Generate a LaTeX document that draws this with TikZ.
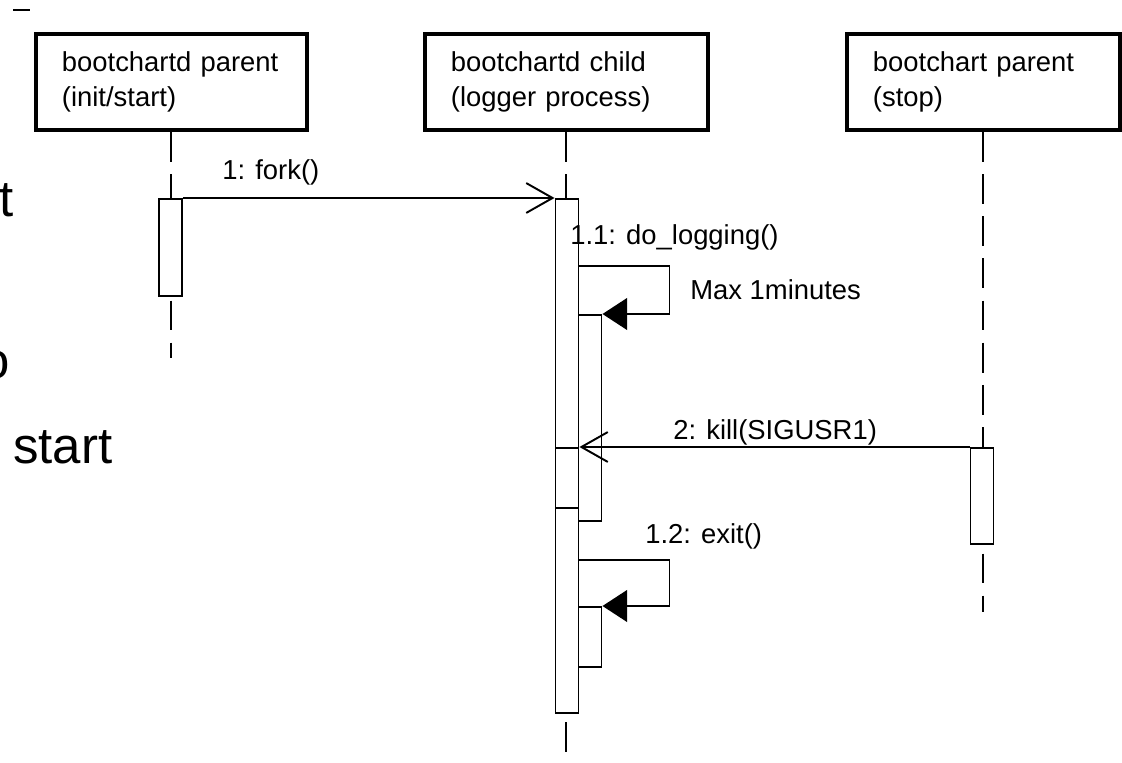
\documentclass[tikz,border=0pt]{standalone}
\usepackage{fontspec}
\setmainfont{Liberation Sans}
\usetikzlibrary{arrows.meta,positioning}

\begin{document}
\begin{tikzpicture}[>=Latex,x=0.02cm,y=-0.02cm,font=\fontsize{15.6}{20}\selectfont]
  \tikzstyle{objbox}=[draw,line width=2.2pt,inner xsep=0.52cm,minimum height=1.92cm,align=left,anchor=north west]
  \tikzstyle{actbar}=[draw,fill=white,line width=1.1pt,minimum width=0.46cm,inner sep=0pt,anchor=north]
  \tikzstyle{lifeline}=[line width=1.1pt,dash pattern=on 17pt off 7pt]
  \tikzstyle{callmsg}=[line width=1.1pt,-{Straight Barb[length=15pt,width=17pt]}]
  \tikzstyle{selfmsg}=[line width=1.1pt,-{Triangle[length=14pt,width=18pt]}]
  \tikzstyle{lbl}=[inner sep=0pt,anchor=base west]
  \tikzstyle{bigtxt}=[inner sep=0pt,font=\fontsize{29}{34}\selectfont]

  \useasboundingbox (0,0) rectangle (1122,763);
  \clip (0,0) rectangle (1122,763);

  % leftover slide text
  \node[bigtxt,anchor=base east] (frag1) at (14,217) {t};
  \node[bigtxt,anchor=base east] (frag2) at (10,378) {o};
  \node[bigtxt,anchor=base west] (frag3) at (13,463) {start};
  \draw[line width=1.1pt] (13,10) -- (30,10);

  % objects
  \node[objbox,text width=4.38cm] (bp) at (34,32) {bootchartd parent\\(init/start)};
  \node[objbox,text width=4.62cm] (bc) at (423,32) {bootchartd child\\(logger process)};
  \node[objbox,text width=4.42cm] (bs) at (845,32) {bootchart parent\\(stop)};

  \coordinate (e1) at (171,358);
  \coordinate (e2) at (564,763);
  \coordinate (e3) at (982,612);
  \draw[lifeline] (bp.south) -- (bp.south |- e1);
  \draw[lifeline] (bc.south) -- (bc.south |- e2);
  \draw[lifeline] (bs.south) -- (bs.south |- e3);

  % activations
  \node[actbar,minimum height=1.94cm] (a1) at (170.5,198) {};
  \node[actbar,minimum height=10.28cm] (a2) at (567,198) {};
  \node[actbar,minimum height=4.12cm] (n1) at (590,314) {};
  \node[actbar,minimum height=1.2cm] (k) at (567,447) {};
  \node[actbar,minimum height=1.2cm] (n2) at (590,606) {};
  \node[actbar,minimum height=1.92cm] (a3) at (982,447) {};

  % messages
  \draw[callmsg] (a1.north east) -- (a2.north west);
  \node[lbl] (m1) at (222,180) {1: fork()};
  \draw[selfmsg] ([yshift=-1.36cm]a2.north east) -- ++(90,0) |- (n1.north east);
  \node[lbl] (m11) at (570,245) {1.1: do\_logging()};
  \node[lbl] (lim) at (690,300) {Max 1minutes};
  \draw[callmsg] (a3.north west) -- (k.north east);
  \node[lbl] (m2) at (673,439) {2: kill(SIGUSR1)};
  \draw[selfmsg] ([yshift=-7.24cm]a2.north east) -- ++(90,0) |- (n2.north east);
  \node[lbl] (m12) at (645,543) {1.2: exit()};
\end{tikzpicture}
\end{document}
